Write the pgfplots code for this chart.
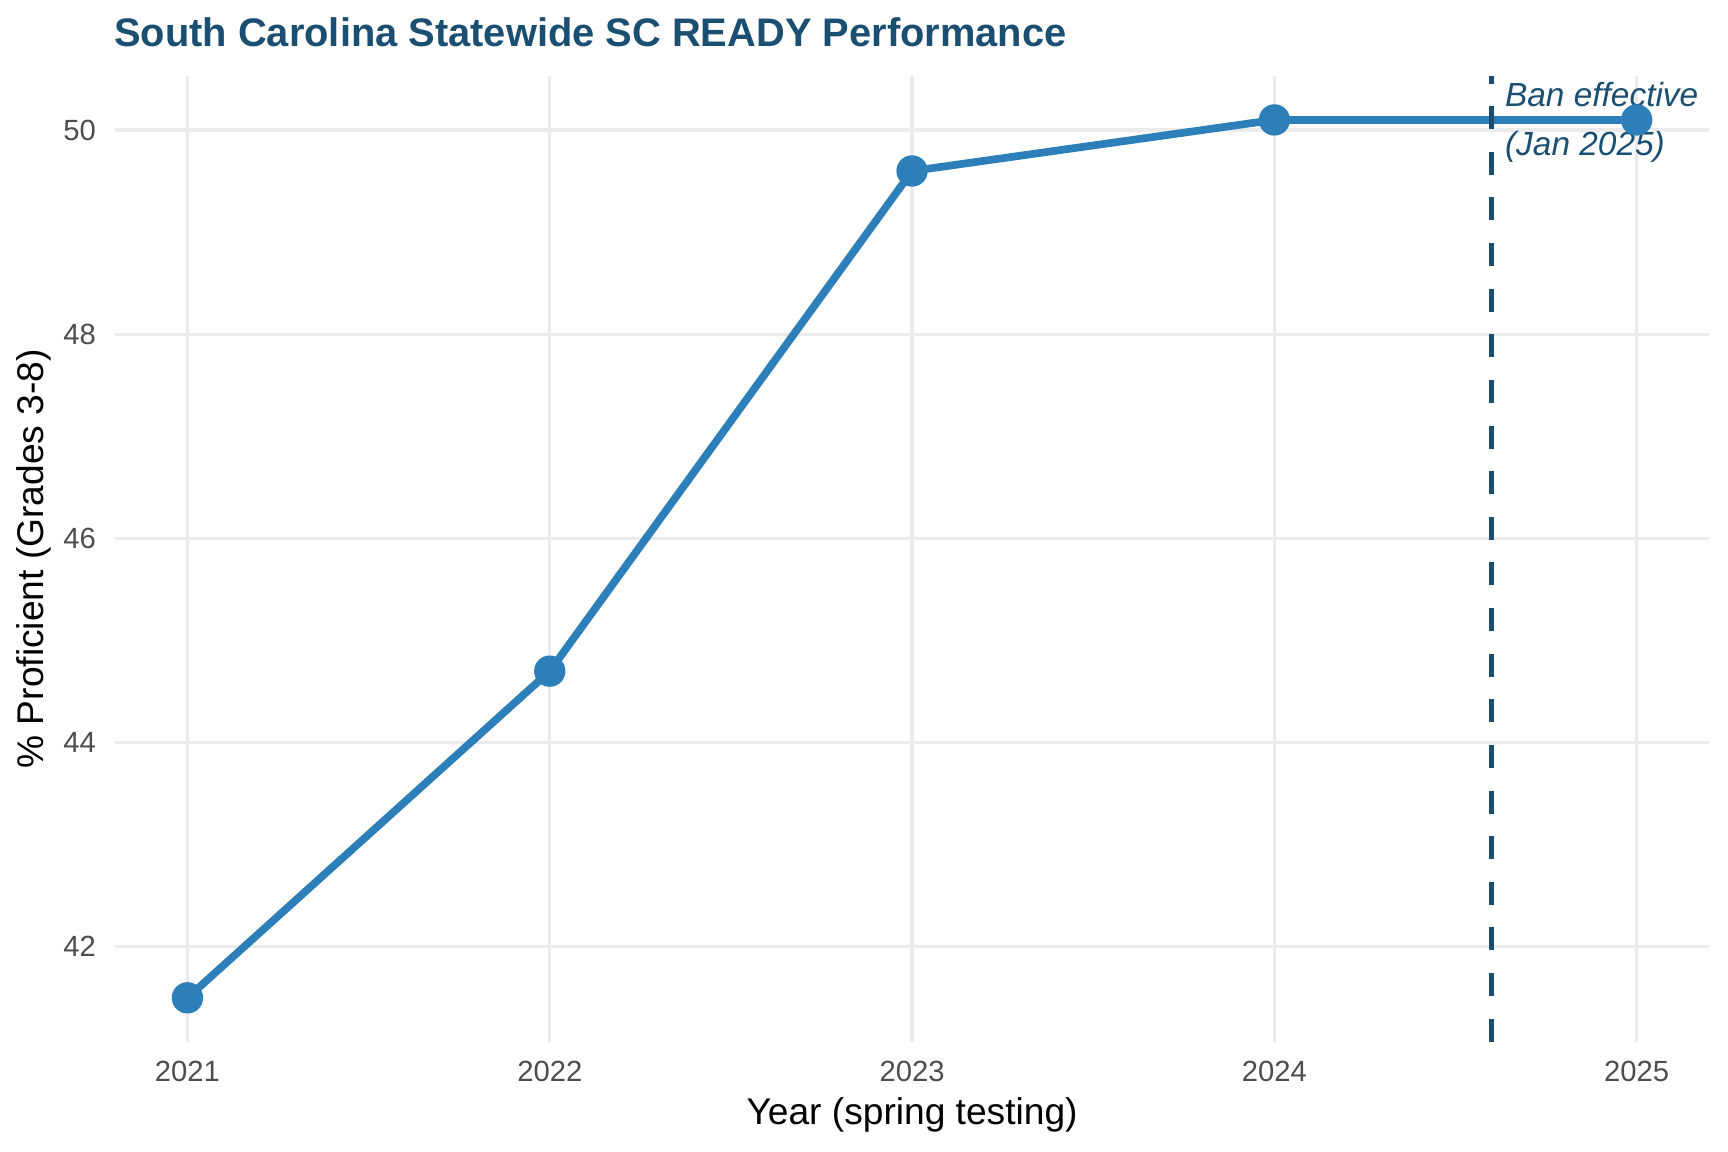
\documentclass[border=0pt]{standalone}
\usepackage{fontspec}
\setmainfont{Liberation Sans}
\usepackage{pgfplots}
\pgfplotsset{compat=1.18}
\definecolor{linecol}{HTML}{2C7FB8}
\definecolor{darkcol}{HTML}{1B4F72}
\definecolor{gridcol}{HTML}{EBEBEB}
\definecolor{tickcol}{HTML}{4D4D4D}
\begin{document}
\begin{tikzpicture}
\path[use as bounding box] (0,0) rectangle (414.72bp,276.48bp);
\begin{axis}[
  at={(27.6bp,26.47bp)}, anchor=south west,
  scale only axis, width=382.6bp, height=231.77bp,
  xmin=2020.8, xmax=2025.2, ymin=41.07, ymax=50.53,
  xtick={2021,2022,2023,2024,2025},
  ytick={42,44,46,48,50},
  xticklabel style={anchor=base, yshift=-9.43bp, inner sep=0pt, font=\fontsize{7.04}{8}\selectfont, text=tickcol},
  yticklabel style={anchor=east, xshift=-4.4bp, inner sep=0pt, font=\fontsize{7.04}{8}\selectfont, text=tickcol},
  /pgf/number format/assume math mode=true,
  x tick label style={/pgf/number format/1000 sep={}},
  axis line style={draw=none},
  major tick length=0pt,
  xmajorgrids, ymajorgrids,
  major grid style={color=gridcol, line width=0.8bp},
  clip=false,
  xlabel={Year (spring testing)},
  ylabel={\% Proficient (Grades 3-8)},
  every axis x label/.style={at={(axis description cs:0.5,-0.0853)}, anchor=base, inner sep=0pt, font=\fontsize{8.95}{10}\selectfont},
  every axis y label/.style={at={(axis description cs:-0.04496,0.5)}, rotate=90, anchor=base, inner sep=0pt, font=\fontsize{8.95}{10}\selectfont},
  title={South Carolina Statewide SC READY Performance},
  every axis title/.style={at={(axis description cs:-0.001,1)}, anchor=base west, yshift=7.06bp, inner sep=0pt, font=\fontsize{9.6}{11}\selectfont\bfseries, text=darkcol},
]
\addplot[linecol, line width=1.85bp] coordinates {
  (2021,41.5) (2022,44.7) (2023,49.6) (2024,50.1) (2025,50.1)
};
\addplot[darkcol, line width=1.2bp, dash pattern=on 5.52bp off 5.43bp] coordinates {
  (2024.6,41.07) (2024.6,50.53)
};
\addplot[draw=none] coordinates {(2024.6,49.756)}
  node[pos=0, anchor=base west, xshift=3.0bp, inner sep=0pt, align=left, text=darkcol,
       font=\fontsize{8.05}{11.76}\selectfont\itshape] {Ban effective\\(Jan 2025)};
\addplot[only marks, mark=*, mark size=3.56bp, color=linecol, mark options={draw=none, fill=linecol}] coordinates {
  (2021,41.5) (2022,44.7) (2023,49.6) (2024,50.1) (2025,50.1)
};
\end{axis}
\end{tikzpicture}
\end{document}
